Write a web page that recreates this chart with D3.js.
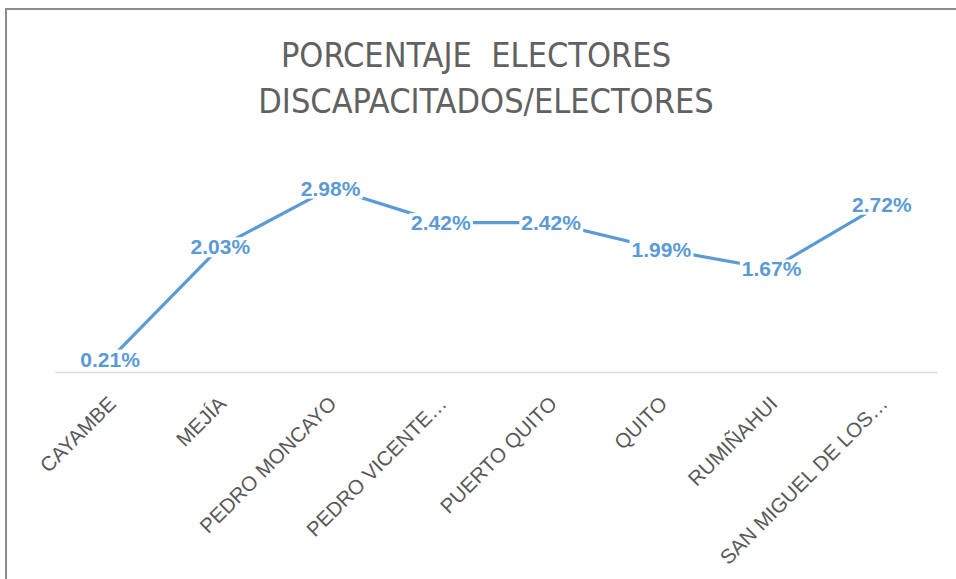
<!DOCTYPE html>
<html>
<head>
<meta charset="utf-8">
<script src="https://cdn.jsdelivr.net/npm/d3@7"></script>
<style>
  html, body { margin: 0; padding: 0; background: #fff; }
  svg { display: block; }
</style>
</head>
<body>
<div id="chart"></div>
<script>
// data
const categories = ['CAYAMBE', 'MEJÍA', 'PEDRO MONCAYO', 'PEDRO VICENTE…', 'PUERTO QUITO', 'QUITO', 'RUMIÑAHUI', 'SAN MIGUEL DE LOS…'];
const percentages = [0.21, 2.03, 2.98, 2.42, 2.42, 1.99, 1.67, 2.72];
const titleLines = ['PORCENTAJE  ELECTORES', 'DISCAPACITADOS/ELECTORES'];

const width = 956;
const height = 579;
const plot = {left: 55, right: 937, top: 156, bottom: 372};

const svg = d3.select('#chart').append('svg')
  .attr('width', width).attr('height', height)
  .attr('viewBox', `0 0 ${width} ${height}`);

// chart frame (only top and left edges are inside the picture)
svg.append('rect')
  .attr('x', 6).attr('y', 9)
  .attr('width', width + 20).attr('height', height + 20)
  .attr('fill', 'none').attr('stroke', '#8c8c8c').attr('stroke-width', 2);

// title
svg.append('g').selectAll('text')
  .data(titleLines)
  .join('text')
  .attr('x', (d, i) => i ? 486 : 476)
  .attr('y', (d, i) => 67 + i * 46)
  .attr('text-anchor', 'middle')
  .attr('font-family', '"Liberation Sans Narrow", "DejaVu Sans Condensed", sans-serif')
  .attr('font-size', 34)
  .attr('fill', '#616161')
  .style('white-space', 'pre')
  .text(d => d);

const x = d3.scaleBand().domain(categories).range([plot.left, plot.right]);
const y = d3.scaleLinear().domain([0, 3.5]).range([plot.bottom, plot.top]);

// category axis
const xAxis = svg.append('g')
  .attr('transform', `translate(0,${plot.bottom})`)
  .call(d3.axisBottom(x).tickSize(0).tickPadding(0));
xAxis.select('.domain').attr('stroke', '#d9d9d9').attr('stroke-width', 1.5);
xAxis.selectAll('.tick text')
  .attr('font-family', '"Liberation Sans", Arial, sans-serif')
  .attr('font-size', 20.5)
  .attr('fill', '#595959')
  .attr('text-anchor', 'end')
  .attr('x', 0).attr('y', 0).attr('dy', '0.35em')
  .attr('transform', 'translate(2,28) rotate(-45)');

// line
const cx = d => x(d.cat) + x.bandwidth() / 2;
const points = categories.map((c, i) => ({cat: c, val: percentages[i]}));

svg.append('path')
  .datum(points)
  .attr('fill', 'none')
  .attr('stroke', '#5b9bd5')
  .attr('stroke-width', 3.2)
  .attr('stroke-linejoin', 'round')
  .attr('d', d3.line().x(cx).y(d => y(d.val)));

// data labels with white boxes on top of the line
const labels = svg.append('g').selectAll('g')
  .data(points)
  .join('g')
  .attr('transform', d => `translate(${cx(d)},${y(d.val)})`);

const labelText = labels.append('text')
  .attr('text-anchor', 'middle')
  .attr('dy', '0.36em')
  .attr('font-family', '"Liberation Sans", Arial, sans-serif')
  .attr('font-weight', 'bold')
  .attr('font-size', 21)
  .attr('fill', '#5b9bd5')
  .text(d => d3.format('.2f')(d.val) + '%');

labelText.each(function() {
  const b = this.getBBox();
  d3.select(this.parentNode).insert('rect', 'text')
    .attr('x', b.x - 2).attr('y', b.y + 2)
    .attr('width', b.width + 4).attr('height', b.height - 3)
    .attr('fill', '#fff');
});
</script>
</body>
</html>
